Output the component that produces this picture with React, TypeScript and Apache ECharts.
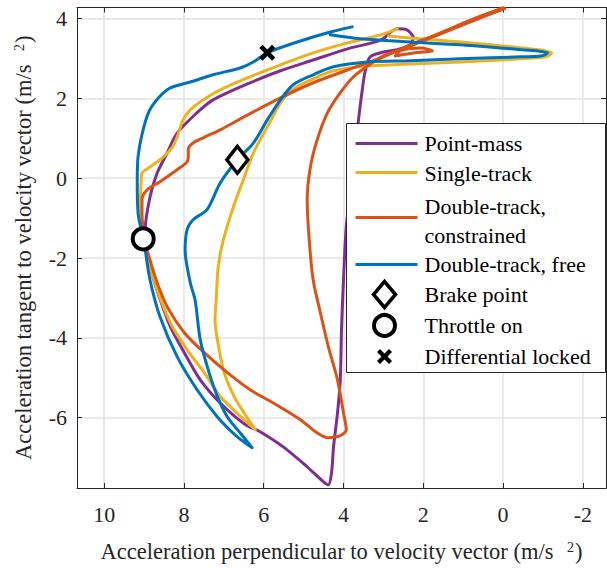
import React, { useEffect, useRef } from 'react';
import * as echarts from 'echarts';

// Acceleration traces: [perpendicular, tangent] in m/s^2
const pointMass: [number, number][] = [
  [2.25, 3.54], [2.32, 3.34], [2.70, 3.21], [3.00, 3.16], [3.33, 3.04], [3.45, 2.71],
  [3.53, 2.21], [3.63, 1.41], [3.78, 0.08], [3.93, -1.22], [4.00, -2.55], [4.05, -3.80],
  [4.08, -5.05], [4.15, -5.88], [4.25, -6.73], [4.30, -7.38], [4.38, -7.68], [4.53, -7.58],
  [4.91, -7.23], [5.51, -6.73], [6.09, -6.35], [6.49, -6.15], [7.09, -5.63], [7.59, -5.05],
  [7.99, -4.37], [8.34, -3.72], [8.62, -2.97], [8.85, -2.22], [8.97, -1.62], [8.97, -1.29],
  [8.85, -0.47], [8.67, 0.13], [8.42, 0.63], [8.17, 1.13], [7.67, 1.64], [7.27, 1.96],
  [6.41, 2.36], [5.58, 2.69], [4.76, 2.96], [3.90, 3.24], [3.07, 3.46], [2.65, 3.74],
  [2.40, 3.71], [2.25, 3.54],
];

const singleTrack: [number, number][] = [
  [2.87, 3.56], [2.32, 3.51], [1.07, 3.41], [-0.19, 3.29], [-0.94, 3.21], [-1.22, 3.14],
  [-1.07, 3.04], [-0.44, 2.99], [1.07, 2.91], [2.32, 2.86], [3.40, 2.81], [4.25, 2.69],
  [4.76, 2.49], [5.21, 2.26], [5.53, 1.96], [5.91, 1.28], [6.26, 0.63], [6.51, -0.04],
  [6.76, -0.72], [7.01, -1.54], [7.14, -2.22], [7.19, -3.05], [7.22, -3.55], [7.16, -4.05],
  [6.99, -4.87], [6.74, -5.47], [6.49, -5.88], [6.21, -6.30], [6.49, -6.05], [7.09, -5.47],
  [7.49, -4.87], [7.92, -4.30], [8.34, -3.62], [8.67, -2.80], [8.92, -1.97], [9.02, -1.54],
  [9.10, -0.79], [9.07, -0.04], [9.05, 0.13], [8.85, 0.28], [8.52, 0.53], [8.29, 0.78],
  [8.17, 1.03], [8.02, 1.46], [7.84, 1.71], [7.52, 1.96], [7.09, 2.21], [6.41, 2.51],
  [5.58, 2.84], [4.76, 3.14], [3.90, 3.39], [3.07, 3.59], [2.65, 3.74],
];

const doubleTrackConstrained: [number, number][] = [
  [-0.04, 4.25], [0.80, 3.92], [1.55, 3.62], [2.30, 3.32], [2.62, 3.16],
  [2.70, 3.06], [2.20, 3.14], [1.77, 3.19], [2.07, 3.26], [2.57, 3.21], [2.95, 3.09],
  [3.25, 2.91], [3.75, 2.54], [4.08, 2.14], [4.40, 1.64], [4.66, 0.96], [4.83, 0.28],
  [4.91, -0.54], [4.86, -1.54], [4.76, -2.55], [4.58, -3.37], [4.38, -4.22], [4.15, -5.05],
  [4.00, -5.88], [3.93, -6.30], [4.08, -6.45], [4.40, -6.50], [4.66, -6.38], [5.08, -6.05],
  [5.76, -5.63], [6.34, -5.30], [6.91, -4.87], [7.49, -4.37], [7.99, -3.87], [8.42, -3.22],
  [8.67, -2.62], [8.85, -2.05], [8.97, -1.59], [9.05, -0.92], [9.05, -0.54], [8.92, -0.29],
  [8.60, -0.09], [8.17, 0.21], [7.92, 0.41], [7.89, 0.58], [7.89, 0.73], [7.77, 0.88],
  [7.52, 1.01], [7.09, 1.21], [6.41, 1.58], [5.58, 2.01], [4.76, 2.39], [3.90, 2.71],
  [3.07, 3.01], [2.32, 3.34], [1.57, 3.64], [0.82, 3.96], [-0.01, 4.27],
];

const doubleTrackFree: [number, number][] = [
  [4.33, 3.59], [3.58, 3.49], [2.32, 3.41], [1.07, 3.34], [-0.19, 3.24], [-0.82, 3.19],
  [-1.12, 3.14], [-0.94, 3.06], [-0.44, 3.04], [1.07, 2.99], [2.32, 2.94], [3.40, 2.91],
  [4.25, 2.79], [4.76, 2.59], [5.26, 2.34], [5.58, 1.96], [5.91, 1.46], [6.26, 0.88],
  [6.66, 0.46], [7.09, -0.12], [7.42, -0.79], [7.77, -1.04], [7.92, -1.29], [7.97, -1.80],
  [7.84, -2.62], [7.72, -3.05], [7.59, -4.05], [7.37, -4.87], [7.16, -5.47], [6.91, -5.98],
  [6.59, -6.38], [6.29, -6.75], [6.66, -6.48], [7.16, -5.98], [7.67, -5.30], [8.17, -4.47],
  [8.60, -3.47], [8.85, -2.55], [8.97, -1.80], [9.02, -1.52], [9.15, -0.87], [9.17, -0.04],
  [9.15, 0.53], [9.05, 1.10], [8.88, 1.66], [8.63, 2.02], [8.34, 2.26], [7.84, 2.41],
  [7.27, 2.59], [6.59, 2.76], [6.26, 2.91], [5.91, 3.14], [5.16, 3.41], [4.33, 3.66],
  [3.78, 3.79],
];

// Event markers on the free double-track trace
const brakePoint: [number, number][] = [[6.66, 0.46]];
const throttleOn: [number, number][] = [[9.02, -1.52]];
const diffLocked: [number, number][] = [[5.91, 3.14]];

const seriesNames = ['Point-mass', 'Single-track', 'Double-track, constrained', 'Double-track, free'];
const markerNames = ['Brake point', 'Throttle on', 'Differential locked'];

const colors = ['#7E2F8E', '#EDB120', '#D95319', '#0072BD'];
const FONT = "'Liberation Serif', 'Times New Roman', serif";
const AXIS_COLOR = '#262626';
const GRID_COLOR = '#e3e3e3';

const X_MIN = -2.58;
const X_MAX = 10.68;
const Y_MIN = -7.76;
const Y_MAX = 4.275;

const crossPath = 'path://M2,0L5,3L8,0L10,2L7,5L10,8L8,10L5,7L2,10L0,8L3,5L0,2Z';

function buildLegend() {
  const lx = 346.5;
  const ly = 123.5;
  const Z = 100;
  const textStyle = { fontFamily: FONT, fontSize: 22, fill: '#000', verticalAlign: 'middle' as const };
  const lineRows = [20, 49, 94, 141];
  const children: any[] = [
    {
      type: 'rect',
      z: Z,
      shape: { x: 0, y: 0, width: 259, height: 249 },
      style: { fill: '#fff', stroke: AXIS_COLOR, lineWidth: 1 },
    },
  ];
  lineRows.forEach((ry, i) => {
    children.push({
      type: 'line',
      z: Z + 1,
      shape: { x1: 9, y1: ry, x2: 71, y2: ry },
      style: { stroke: colors[i], lineWidth: 3 },
    });
  });
  const texts: [string, number][] = [
    [seriesNames[0], 20],
    [seriesNames[1], 50],
    ['Double-track,', 83],
    ['constrained', 112],
    [seriesNames[3], 141],
    [markerNames[0], 171],
    [markerNames[1], 202],
    [markerNames[2], 233],
  ];
  texts.forEach(([t, ry]) => {
    children.push({ type: 'text', z: Z + 1, x: 78, y: ry, style: { ...textStyle, text: t } });
  });
  children.push({
    type: 'polygon',
    z: Z + 1,
    shape: { points: [[38, 158], [49, 171], [38, 184], [27, 171]] },
    style: { fill: '#fff', stroke: '#000', lineWidth: 3.5 },
  });
  children.push({
    type: 'circle',
    z: Z + 1,
    shape: { cx: 38, cy: 202, r: 10.5 },
    style: { fill: '#fff', stroke: '#000', lineWidth: 4 },
  });
  children.push({
    type: 'line',
    z: Z + 1,
    shape: { x1: 32, y1: 227, x2: 44, y2: 239 },
    style: { stroke: '#000', lineWidth: 4.2 },
  });
  children.push({
    type: 'line',
    z: Z + 1,
    shape: { x1: 44, y1: 227, x2: 32, y2: 239 },
    style: { stroke: '#000', lineWidth: 4.2 },
  });
  return [{ type: 'group', x: lx, y: ly, z: Z, children }];
}

const nameRich = {
  sup: { fontSize: 14, fontFamily: FONT, color: AXIS_COLOR, verticalAlign: 'top', lineHeight: 14, padding: [0, 1, 0, 8] },
};

function makeOption(): any {
  const baseX = {
    type: 'value',
    inverse: true,
    min: X_MIN,
    max: X_MAX,
    splitNumber: 6,
    minInterval: 2,
    maxInterval: 2,
    axisLine: { show: true, onZero: false, lineStyle: { color: AXIS_COLOR, width: 1 } },
    axisTick: { show: true, inside: true, length: 5, lineStyle: { color: AXIS_COLOR, width: 1 } },
  };
  const baseY = {
    type: 'value',
    min: Y_MIN,
    max: Y_MAX,
    splitNumber: 6,
    minInterval: 2,
    maxInterval: 2,
    axisLine: { show: true, onZero: false, lineStyle: { color: AXIS_COLOR, width: 1 } },
    axisTick: { show: true, inside: true, length: 5, lineStyle: { color: AXIS_COLOR, width: 1 } },
  };
  const traces = [pointMass, singleTrack, doubleTrackConstrained, doubleTrackFree];
  return {
    animation: false,
    backgroundColor: '#ffffff',
    textStyle: { fontFamily: FONT },
    grid: { left: 77, right: 1, top: 7.5, bottom: 80, containLabel: false, outerBoundsMode: 'none' },
    xAxis: [
      {
        ...baseX,
        position: 'bottom',
        axisLabel: {
          fontFamily: FONT, fontSize: 22, color: AXIS_COLOR, margin: 15,
          showMinLabel: false, showMaxLabel: false,
        },
        splitLine: { show: true, showMinLine: false, showMaxLine: false, lineStyle: { color: GRID_COLOR, width: 1.5 } },
        name: 'Acceleration perpendicular to velocity vector (m/s {sup|2})',
        nameLocation: 'middle',
        nameGap: 52,
        nameTextStyle: { fontFamily: FONT, fontSize: 22.5, color: AXIS_COLOR, rich: nameRich },
      },
      {
        ...baseX,
        position: 'top',
        axisLabel: { show: false },
        splitLine: { show: false },
      },
    ],
    yAxis: [
      {
        ...baseY,
        position: 'left',
        axisLabel: {
          fontFamily: FONT, fontSize: 22, color: AXIS_COLOR, margin: 10,
          showMinLabel: false, showMaxLabel: false,
        },
        splitLine: { show: true, showMinLine: false, showMaxLine: false, lineStyle: { color: GRID_COLOR, width: 1.5 } },
        name: 'Acceleration tangent to velocity vector (m/s {sup|2})',
        nameLocation: 'middle',
        nameRotate: 90,
        nameGap: 42,
        nameTextStyle: { fontFamily: FONT, fontSize: 22.5, color: AXIS_COLOR, rich: nameRich },
      },
      {
        ...baseY,
        position: 'right',
        axisLabel: { show: false },
        splitLine: { show: false },
      },
    ],
    graphic: buildLegend(),
    series: [
      ...traces.map((data, i) => ({
        name: seriesNames[i],
        type: 'line',
        xAxisIndex: 0,
        yAxisIndex: 0,
        data,
        symbol: 'none',
        showSymbol: false,
        smooth: 0.3,
        silent: true,
        z: 2 + i,
        lineStyle: { color: colors[i], width: 3, cap: 'round', join: 'round' },
        itemStyle: { color: colors[i] },
      })),
      {
        name: markerNames[0],
        type: 'scatter',
        data: brakePoint,
        symbol: 'diamond',
        symbolSize: [21, 27],
        silent: true,
        z: 10,
        itemStyle: { color: '#ffffff', borderColor: '#000000', borderWidth: 3.5, opacity: 1 },
      },
      {
        name: markerNames[1],
        type: 'scatter',
        data: throttleOn,
        symbol: 'circle',
        symbolSize: 21,
        silent: true,
        z: 10,
        itemStyle: { color: '#ffffff', borderColor: '#000000', borderWidth: 4, opacity: 1 },
      },
      {
        name: markerNames[2],
        type: 'scatter',
        data: diffLocked,
        symbol: crossPath,
        symbolSize: 16,
        silent: true,
        z: 10,
        itemStyle: { color: '#000000', opacity: 1 },
      },
    ],
  };
}

export default function App() {
  const ref = useRef<HTMLDivElement>(null);
  useEffect(() => {
    document.body.style.margin = '0';
    if (!ref.current) return;
    const chart = echarts.init(ref.current, undefined, { renderer: 'svg' });
    chart.setOption(makeOption());
    return () => chart.dispose();
  }, []);
  return <div ref={ref} style={{ width: 607, height: 568, position: 'absolute', left: 0, top: 0 }} />;
}
